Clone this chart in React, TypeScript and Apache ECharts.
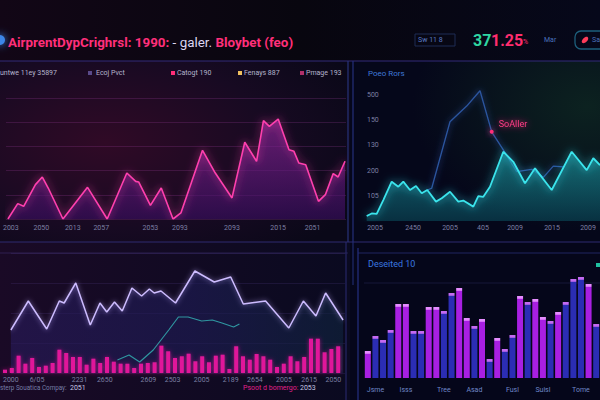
import React, { useEffect, useRef } from 'react';
import * as echarts from 'echarts';

// ---------- data: top-left area chart ----------
const tlX = [2, 12, 18, 30, 37, 43, 58, 83, 103, 123, 132, 135, 147, 158, 170, 178, 200, 213, 230, 243, 255, 262, 268, 277, 288, 293, 298, 305, 318, 325, 333, 338, 345];
const tlY = [0, 12.7, 10.5, 28.4, 34.7, 25.6, 0, 26.2, 0, 38, 31.1, 30.6, 11.3, 25.6, 0, 5, 56.8, 38, 17.4, 63.4, 47.7, 81.3, 76.6, 82.6, 57.3, 55.9, 46.3, 44.9, 14.6, 20.1, 37.5, 34.7, 47.7];
const tlTickPos = [5, 36, 68, 97, 147, 177, 230, 277, 312];
const tlTickLabels = ['2003', '2050', '2013', '2057', '2053', '2093', '2093', '2015', '2051'];

// ---------- data: top-right ----------
const trCyanX = [16.7, 21.7, 26.7, 33.3, 41.7, 48.3, 53.3, 60, 66, 71.7, 77.3, 86, 91.7, 100, 108.3, 113.3, 123.3, 128.3, 133.3, 140, 153.3, 163.3, 175, 185, 201.7, 221.7, 236.7, 243.3, 250];
const trCyanY = [20, 30, 28, 83, 156, 136, 156, 123, 139, 110, 123, 77, 90, 116, 77, 81, 57, 99, 96, 136, 275, 235, 150, 209, 123, 275, 202, 249, 222];
const trBlueX = [77.3, 81.7, 100, 116.7, 130, 141.7, 153.3, 166.7, 181.7, 193.3, 203.3, 213.3];
const trBlueY = [123, 130, 394, 456, 517, 354, 282, 196, 205, 173, 218, 215];
const trYTicks = [100, 200, 300, 400, 500];
const trYLabels = ['105', '200', '130', '150', '500'];
const trXTickPos = [25, 63, 100, 133, 165, 202, 238];
const trXTickLabels = ['2005', '2450', '2005', '405', '2009', '2015', '2009'];
const trMarkIndex = 5;
const trMarkLabel = 'SoAller';

// ---------- data: bottom-left ----------
const blLineX = [0, 18, 37, 50, 55, 67, 82, 92, 99, 107, 115, 125, 135, 143, 148, 155, 170, 190, 210, 227, 240, 263, 287, 302, 315, 325, 343];
const blLineY = [43, 72, 44, 72, 70, 90, 48, 70, 61, 71, 62, 85, 77, 84, 80, 82, 70, 102, 91, 96, 69, 72, 45, 72, 57, 80, 53];
const blTealX = [110, 122, 133, 147, 163, 173, 183, 197, 208, 218, 230, 236];
const blTealY = [13, 18, 11, 23, 43, 56, 56, 52, 53, 50, 46, 49];
const blBars = [3.3, 5, 17.3, 9.3, 15, 6, 7.3, 10, 23.3, 20, 16, 16, 8.3, 14.3, 10, 16, 11.3, 9.3, 9.3, 5, 9.3, 10, 10.7, 27.3, 21.7, 15, 16.7, 19.3, 11.7, 16.7, 10.7, 17.3, 18.3, 4, 26.7, 16.7, 13.3, 19, 16.7, 13.3, 6, 9.3, 16.7, 11.7, 16, 34.3, 34.3, 20.7, 24, 26.7];
const blTickPos = [0, 27, 71, 97, 142, 167, 197, 227, 252, 282, 308, 333];
const blTickLabels = ['2000', '6/05', '2231', '2650', '2609', '2503', '2005', '2189', '2654', '2005', '2615', '2050'];

// ---------- data: bottom-right ----------
const brValues = [27, 42, 38, 48, 74, 74, 47, 47, 71, 71, 67, 85, 90, 60, 52, 59, 19, 40, 29, 43, 82, 76, 79, 61, 57, 66, 76, 99, 101, 94, 54];
const brKinds = ['M', 'B', 'B', 'B', 'M', 'M', 'B', 'B', 'M', 'M', 'B', 'B', 'M', 'M', 'B', 'M', 'B', 'M', 'B', 'B', 'M', 'B', 'M', 'M', 'B', 'M', 'B', 'B', 'B', 'M', 'B'];
const brLabelIdx = [1, 5, 10, 14, 19, 23, 28];
const brLabels = ['Jsme', 'Isss', 'Tree', 'Asad', 'Fusl', 'Suisl', 'Tome'];

const FONT = 'Roboto, "Noto Sans", sans-serif';

function txt(x: number, y: number, text: string, fill: string, size: number, extra: any = {}) {
  return {
    type: 'text', x, y, z: 20, silent: true,
    style: {
      text, fill, fontSize: size, fontFamily: FONT,
      textVerticalAlign: 'middle', verticalAlign: 'middle',
      ...extra,
    },
  };
}
function hline(x1: number, x2: number, y: number, color: string, w = 1) {
  return { type: 'line', z: 5, silent: true, shape: { x1, y1: y, x2, y2: y }, style: { stroke: color, lineWidth: w } };
}
function vline(x: number, y1: number, y2: number, color: string, w = 1) {
  return { type: 'line', z: 5, silent: true, shape: { x1: x, y1, x2: x, y2 }, style: { stroke: color, lineWidth: w } };
}

const axisLabelStyle = { color: '#7c7fa3', fontSize: 7, fontFamily: FONT };

export default function App() {
  const ref = useRef<HTMLDivElement>(null);
  useEffect(() => {
    document.body.style.margin = '0';
    const chart = echarts.init(ref.current!, null, { renderer: 'svg' });

    const brCap = (k: string) => (k === 'M' ? '#e58cff' : '#c46af2');
    const brBody = (k: string) => (k === 'M' ? '#a81fe2' : '#2b2db4');

    const graphic: any[] = [
      // backgrounds
      { type: 'rect', z: 0, silent: true, shape: { x: 0, y: 0, width: 600, height: 61 }, style: { fill: { type: 'linear', x: 0, y: 0, x2: 1, y2: 0, colorStops: [{ offset: 0, color: '#120616' }, { offset: 0.5, color: '#08060f' }, { offset: 1, color: '#06081a' }] } } },
      { type: 'rect', z: 0, silent: true, shape: { x: 0, y: 61, width: 350, height: 181 }, style: { fill: { type: 'radial', x: 0.3, y: 0.45, r: 0.8, colorStops: [{ offset: 0, color: '#300a26' }, { offset: 0.6, color: '#170a22' }, { offset: 1, color: '#0a0818' }] } } },
      { type: 'rect', z: 0, silent: true, shape: { x: 350, y: 61, width: 250, height: 181 }, style: { fill: { type: 'radial', x: 0.95, y: 0.25, r: 0.7, colorStops: [{ offset: 0, color: '#0c2220' }, { offset: 1, color: '#05071a' }] } } },
      { type: 'rect', z: 0, silent: true, shape: { x: 0, y: 242, width: 350, height: 158 }, style: { fill: { type: 'linear', x: 0, y: 0, x2: 1, y2: 0, colorStops: [{ offset: 0, color: '#1a0a26' }, { offset: 1, color: '#0a0a20' }] } } },
      { type: 'rect', z: 0, silent: true, shape: { x: 350, y: 242, width: 250, height: 158 }, style: { fill: '#05061a' } },
      // borders
      hline(0, 600, 61, '#332a78', 1.2),
      hline(0, 600, 242, '#2e2a70', 1.2),
      hline(0, 348, 253, 'rgba(90,70,160,0.35)'),
      hline(358, 600, 253, 'rgba(60,70,170,0.5)'),
      vline(348, 61, 242, '#27327a', 1.2),
      vline(353, 61, 242, '#24307a', 1.2),
      vline(346, 242, 400, '#2a2a72'),
      vline(353, 242, 285, '#24307a'),
      vline(358, 248, 400, '#243080', 1.2),
      hline(364, 600, 283, 'rgba(70,70,150,0.25)'),
      // header
      { type: 'circle', z: 20, silent: true, shape: { cx: 0, cy: 40, r: 5 }, style: { fill: '#3c86e8', shadowBlur: 8, shadowColor: '#3c86e8' } },
      {
        type: 'text', x: 8, y: 42, z: 20, silent: true,
        style: {
          text: '{a|AirprentDypCrighrsl: 1990:} {b|- galer.} {a|Bloybet (feo)}',
          textVerticalAlign: 'middle', verticalAlign: 'middle',
          rich: {
            a: { fill: '#ff2f7a', color: '#ff2f7a', fontSize: 13.4, fontWeight: 'bold', fontFamily: FONT },
            b: { fill: '#dcd6f2', color: '#dcd6f2', fontSize: 13.4, fontFamily: FONT },
          },
          shadowBlur: 6, shadowColor: 'rgba(255,40,120,0.6)',
        },
      },
      { type: 'rect', z: 20, silent: true, shape: { x: 415, y: 34, width: 40, height: 12 }, style: { fill: 'none', stroke: '#1f2c55', lineWidth: 1 } },
      txt(418, 40, 'Sw 11 8', '#5a7ac4', 7),
      txt(473, 40, '37', '#2fd6a2', 16, { fontWeight: 'bold' }),
      txt(491, 40, '1.25', '#ff2d6e', 16, { fontWeight: 'bold', shadowBlur: 6, shadowColor: 'rgba(255,40,110,0.6)' }),
      txt(523, 42, '%', '#ff2d6e', 7),
      txt(544, 40, 'Mar', '#4a72bc', 7),
      { type: 'rect', z: 20, silent: true, shape: { x: 575, y: 31, width: 40, height: 18, r: 6 }, style: { fill: 'none', stroke: '#1d5f7c', lineWidth: 1.3 } },
      { type: 'ellipse', z: 20, silent: true, x: 585, y: 40, rotation: 0.8, shape: { cx: 0, cy: 0, rx: 4, ry: 2.3 }, style: { fill: '#ff3d5a' } },
      txt(592, 40, 'Sa', '#4a72bc', 7),
      // top-left legend
      txt(0, 73, 'untwe 11ey 35897', '#b4b4cc', 7),
      { type: 'rect', z: 20, silent: true, shape: { x: 88, y: 71, width: 4, height: 4 }, style: { fill: '#5a4a8a' } },
      txt(96, 73, 'Ecoj Pvct', '#b4b4cc', 7),
      { type: 'rect', z: 20, silent: true, shape: { x: 171, y: 71, width: 4, height: 4 }, style: { fill: '#ff2d78' } },
      txt(177, 73, 'Catogt 190', '#b4b4cc', 7),
      { type: 'rect', z: 20, silent: true, shape: { x: 238, y: 71, width: 4, height: 4 }, style: { fill: '#f0c060' } },
      txt(244, 73, 'Fenays 887', '#b4b4cc', 7),
      { type: 'rect', z: 20, silent: true, shape: { x: 300, y: 71, width: 4, height: 4 }, style: { fill: '#b0306a' } },
      txt(306, 73, 'Pmage 193', '#b4b4cc', 7),
      // panel titles
      txt(368, 73, 'Poeo Rors', '#3f78d8', 8),
      txt(368, 264, 'Deseited 10', '#3a78e0', 9),
      { type: 'rect', z: 20, silent: true, shape: { x: 596, y: 263, width: 4, height: 4 }, style: { fill: '#20c0a0' } },
      // bottom captions
      txt(0, 388, 'sterp Souatica Compay:', '#767ca6', 6.3),
      txt(70, 388, '2051', '#c4c6e4', 7),
      txt(243, 388, 'Psoot d bomergo:', '#e0208a', 7),
      txt(300, 388, '2053', '#c4c6e4', 7),
    ];

    const option: any = {
      animation: false,
      backgroundColor: '#070716',
      graphic,
      grid: [
        { left: 0, top: 98, width: 346, height: 121 },
        { left: 350, top: 95, width: 250, height: 126 },
        { left: 0, top: 253, width: 345, height: 120 },
        { left: 1.6, top: 253, width: 340, height: 120 },
        { left: 364, top: 274, width: 238, height: 104 },
      ],
      xAxis: [
        {
          gridIndex: 0, type: 'value', min: 0, max: 346,
          axisLine: { show: false }, axisTick: { show: false }, splitLine: { show: false },
          axisLabel: { ...axisLabelStyle, margin: 5, customValues: tlTickPos, formatter: (v: number) => tlTickLabels[tlTickPos.indexOf(v)] ?? '' },
        },
        {
          gridIndex: 1, type: 'value', min: 0, max: 250,
          axisLine: { show: false }, axisTick: { show: false }, splitLine: { show: false },
          axisLabel: { ...axisLabelStyle, margin: 3, customValues: trXTickPos, formatter: (v: number) => trXTickLabels[trXTickPos.indexOf(v)] ?? '' },
        },
        {
          gridIndex: 2, type: 'value', min: 0, max: 345,
          axisLine: { show: false }, axisTick: { show: false }, splitLine: { show: false },
          axisLabel: { ...axisLabelStyle, margin: 3, customValues: blTickPos, formatter: (v: number) => blTickLabels[blTickPos.indexOf(v)] ?? '' },
        },
        {
          gridIndex: 3, type: 'category', data: blBars.map((_, i) => 'c' + i),
          axisLine: { show: false }, axisTick: { show: false }, axisLabel: { show: false },
        },
        {
          gridIndex: 4, type: 'category', data: brValues.map((_, i) => 'b' + i),
          axisLine: { show: false }, axisTick: { show: false },
          axisLabel: { ...axisLabelStyle, color: '#6f86c8', fontSize: 7, margin: 8, interval: 0, formatter: (_: string, i: number) => { const k = brLabelIdx.indexOf(i); return k >= 0 ? brLabels[k] : ''; } },
        },
      ],
      yAxis: [
        {
          gridIndex: 0, type: 'value', min: 0, max: 100, interval: 20,
          axisLabel: { show: false }, axisLine: { show: false }, axisTick: { show: false },
          splitLine: { lineStyle: { color: 'rgba(170,70,170,0.22)', width: 1 } },
        },
        {
          gridIndex: 1, type: 'value', min: 0, max: 500, interval: 100,
          axisLine: { show: false }, axisTick: { show: false }, splitLine: { show: false },
          axisLabel: { ...axisLabelStyle, inside: true, margin: 17, formatter: (v: number) => { const k = trYTicks.indexOf(v); return k >= 0 ? trYLabels[k] : ''; } },
        },
        {
          gridIndex: 2, type: 'value', min: 0, max: 120, interval: 30,
          axisLabel: { show: false }, axisLine: { show: false }, axisTick: { show: false },
          splitLine: { lineStyle: { color: 'rgba(120,90,200,0.14)' } },
        },
        { gridIndex: 3, type: 'value', min: 0, max: 120, show: false },
        { gridIndex: 4, type: 'value', min: 0, max: 104, show: false },
      ],
      series: [
        {
          type: 'line', xAxisIndex: 0, yAxisIndex: 0, symbol: 'none', z: 3,
          data: tlX.map((x, i) => [x, tlY[i]]),
          lineStyle: { color: '#ff3fae', width: 1.6, shadowBlur: 8, shadowColor: 'rgba(255,60,170,0.9)' },
          areaStyle: { color: { type: 'linear', x: 0, y: 0, x2: 0, y2: 1, colorStops: [{ offset: 0, color: 'rgba(150,40,160,0.9)' }, { offset: 1, color: 'rgba(60,14,100,0.85)' }] } },
        },
        {
          type: 'line', xAxisIndex: 1, yAxisIndex: 1, symbol: 'none', z: 3, clip: false,
          data: trBlueX.map((x, i) => [x, trBlueY[i]]),
          lineStyle: { color: '#2c559f', width: 1.3, shadowBlur: 6, shadowColor: 'rgba(60,110,220,0.7)' },
          markPoint: {
            symbol: 'circle', symbolSize: 4,
            itemStyle: { color: '#ff2d7a', shadowBlur: 6, shadowColor: '#ff2d7a' },
            label: { show: true, position: 'right', offset: [0, -8], formatter: trMarkLabel, color: '#ff3d86', fontSize: 9, fontFamily: FONT, textShadowBlur: 6, textShadowColor: 'rgba(255,40,120,0.9)' },
            data: [{ coord: [trBlueX[trMarkIndex], trBlueY[trMarkIndex]] }],
          },
        },
        {
          type: 'line', xAxisIndex: 1, yAxisIndex: 1, symbol: 'none', z: 4,
          data: trCyanX.map((x, i) => [x, trCyanY[i]]),
          lineStyle: { color: '#3ae4ec', width: 1.8, shadowBlur: 8, shadowColor: 'rgba(50,220,235,0.9)' },
          areaStyle: { color: { type: 'linear', x: 0, y: 0, x2: 0, y2: 1, colorStops: [{ offset: 0, color: 'rgba(30,170,180,0.85)' }, { offset: 1, color: 'rgba(10,80,95,0.8)' }] } },
        },
        {
          type: 'line', xAxisIndex: 2, yAxisIndex: 2, symbol: 'none', z: 3,
          data: blLineX.map((x, i) => [x, blLineY[i]]),
          lineStyle: { color: '#cdbcff', width: 1.5, shadowBlur: 5, shadowColor: 'rgba(190,170,255,0.7)' },
          areaStyle: { color: { type: 'linear', x: 0, y: 0, x2: 1, y2: 0, colorStops: [{ offset: 0, color: 'rgba(40,26,90,0.9)' }, { offset: 0.55, color: 'rgba(30,28,85,0.9)' }, { offset: 1, color: 'rgba(16,36,62,0.9)' }] } },
        },
        {
          type: 'line', xAxisIndex: 2, yAxisIndex: 2, symbol: 'none', z: 4,
          data: blTealX.map((x, i) => [x, blTealY[i]]),
          lineStyle: { color: '#2f96a0', width: 1.2 },
        },
        {
          type: 'bar', xAxisIndex: 3, yAxisIndex: 3, z: 5, barWidth: 4,
          data: blBars,
          itemStyle: { color: '#e0189a', shadowBlur: 4, shadowColor: 'rgba(240,30,160,0.6)' },
        },
        {
          type: 'bar', xAxisIndex: 4, yAxisIndex: 4, z: 5, barWidth: 6,
          data: brValues.map((v, i) => ({
            value: v,
            itemStyle: {
              color: {
                type: 'linear', x: 0, y: 0, x2: 0, y2: 1,
                colorStops: [
                  { offset: 0, color: brCap(brKinds[i]) },
                  { offset: 2.2 / Math.max(v, 3), color: brCap(brKinds[i]) },
                  { offset: Math.min(3.5 / Math.max(v, 3), 1), color: brBody(brKinds[i]) },
                  { offset: 1, color: brBody(brKinds[i]) },
                ],
              },
            },
          })),
        },
      ],
    };
    chart.setOption(option);
    return () => chart.dispose();
  }, []);
  return <div ref={ref} style={{ width: 600, height: 400 }} />;
}
